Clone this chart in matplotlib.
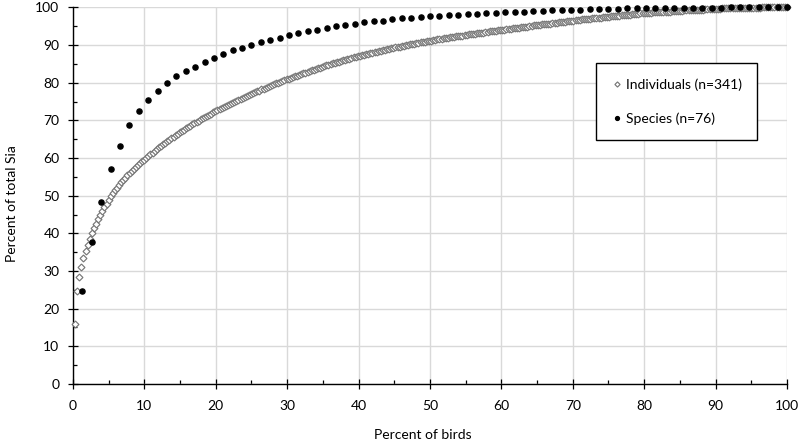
import numpy as np
import matplotlib
matplotlib.use("Agg")
import matplotlib.pyplot as plt
from matplotlib.ticker import MultipleLocator

plt.rcParams['font.family'] = ['Lato', 'DejaVu Sans']

# cumulative percent of total Sia, birds ranked from highest to lowest
individuals = [
    16.0, 24.7, 28.4, 31.0, 33.4, 35.3, 37.0, 38.6, 40.1, 41.4,
    42.6, 43.7, 44.8, 45.9, 46.9, 47.9, 48.9, 49.8, 50.6, 51.4,
    52.1, 52.8, 53.5, 54.2, 54.8, 55.5, 56.0, 56.6, 57.1, 57.6,
    58.1, 58.6, 59.1, 59.5, 60.0, 60.5, 61.0, 61.4, 61.9, 62.3,
    62.8, 63.2, 63.6, 64.1, 64.5, 64.9, 65.3, 65.7, 66.1, 66.4,
    66.8, 67.2, 67.5, 67.9, 68.2, 68.6, 68.9, 69.3, 69.6, 69.9,
    70.3, 70.6, 70.9, 71.2, 71.5, 71.8, 72.1, 72.4, 72.7, 73.0,
    73.3, 73.5, 73.8, 74.1, 74.4, 74.6, 74.9, 75.2, 75.4, 75.7,
    76.0, 76.2, 76.5, 76.7, 77.0, 77.2, 77.5, 77.7, 77.9, 78.2,
    78.4, 78.7, 78.9, 79.1, 79.4, 79.6, 79.8, 80.0, 80.2, 80.5,
    80.7, 80.9, 81.1, 81.3, 81.5, 81.7, 81.9, 82.1, 82.3, 82.5,
    82.7, 82.9, 83.1, 83.3, 83.5, 83.7, 83.9, 84.0, 84.2, 84.4,
    84.6, 84.8, 84.9, 85.1, 85.3, 85.5, 85.6, 85.8, 86.0, 86.1,
    86.3, 86.4, 86.6, 86.7, 86.9, 87.0, 87.1, 87.3, 87.4, 87.6,
    87.7, 87.8, 88.0, 88.1, 88.2, 88.4, 88.5, 88.6, 88.8, 88.9,
    89.0, 89.1, 89.2, 89.4, 89.5, 89.6, 89.7, 89.8, 89.9, 90.0,
    90.2, 90.3, 90.4, 90.5, 90.6, 90.7, 90.8, 90.9, 91.0, 91.1,
    91.2, 91.3, 91.4, 91.5, 91.6, 91.7, 91.8, 91.8, 91.9, 92.0,
    92.1, 92.2, 92.3, 92.4, 92.5, 92.5, 92.6, 92.7, 92.8, 92.9,
    92.9, 93.0, 93.1, 93.2, 93.3, 93.3, 93.4, 93.5, 93.6, 93.6,
    93.7, 93.8, 93.9, 93.9, 94.0, 94.1, 94.2, 94.3, 94.3, 94.4,
    94.5, 94.6, 94.6, 94.7, 94.8, 94.9, 94.9, 95.0, 95.1, 95.2,
    95.2, 95.3, 95.4, 95.5, 95.5, 95.6, 95.7, 95.7, 95.8, 95.9,
    95.9, 96.0, 96.1, 96.2, 96.2, 96.3, 96.4, 96.4, 96.5, 96.6,
    96.6, 96.7, 96.8, 96.8, 96.9, 96.9, 97.0, 97.1, 97.1, 97.2,
    97.2, 97.3, 97.4, 97.4, 97.5, 97.5, 97.6, 97.7, 97.7, 97.8,
    97.8, 97.9, 97.9, 98.0, 98.1, 98.1, 98.2, 98.2, 98.3, 98.3,
    98.4, 98.4, 98.5, 98.5, 98.6, 98.6, 98.7, 98.7, 98.7, 98.8,
    98.8, 98.8, 98.9, 98.9, 98.9, 99.0, 99.0, 99.0, 99.1, 99.1,
    99.1, 99.2, 99.2, 99.2, 99.3, 99.3, 99.3, 99.3, 99.4, 99.4,
    99.4, 99.5, 99.5, 99.5, 99.5, 99.6, 99.6, 99.6, 99.6, 99.7,
    99.7, 99.7, 99.7, 99.7, 99.8, 99.8, 99.8, 99.8, 99.8, 99.8,
    99.9, 99.9, 99.9, 99.9, 99.9, 99.9, 99.9, 99.9, 100.0, 100.0,
    100.0, 100.0, 100.0, 100.0, 100.0, 100.0, 100.0, 100.0, 100.0, 100.0,
    100.0,
]

species = [
    24.7, 37.8, 48.2, 57.0, 63.1, 68.8, 72.5, 75.3, 77.9, 79.9,
    81.7, 83.1, 84.2, 85.5, 86.5, 87.5, 88.6, 89.3, 90.0, 90.8,
    91.4, 91.9, 92.6, 93.2, 93.6, 94.1, 94.5, 95.0, 95.4, 95.7,
    96.0, 96.3, 96.5, 96.8, 97.1, 97.2, 97.4, 97.6, 97.8, 98.0,
    98.1, 98.2, 98.3, 98.4, 98.6, 98.7, 98.8, 98.9, 99.0, 99.1,
    99.2, 99.3, 99.3, 99.4, 99.5, 99.5, 99.6, 99.6, 99.7, 99.7,
    99.7, 99.8, 99.8, 99.8, 99.9, 99.9, 99.9, 99.9, 99.9, 100.0,
    100.0, 100.0, 100.0, 100.0, 100.0, 100.0,
]

labels = ["Individuals (n=341)", "Species (n=76)"]

# x = rank of the bird as percent of all birds
x_ind = np.arange(1, len(individuals) + 1) / len(individuals) * 100
x_sp = np.arange(1, len(species) + 1) / len(species) * 100

fig = plt.figure(figsize=(8, 4.41), dpi=100)
ax = fig.add_axes([0.09125, 0.1293, 0.8925, 0.854])

ax.plot(x_ind, individuals, linestyle='none', marker='D', markersize=3.5,
        markerfacecolor='white', markeredgecolor='#777777', markeredgewidth=0.85,
        label=labels[0], clip_on=False, zorder=3)
ax.plot(x_sp, species, linestyle='none', marker='o', markersize=3.7,
        color='black', label=labels[1], clip_on=False, zorder=4)

ax.set_xlim(0, 100)
ax.set_ylim(0, 100)
ax.xaxis.set_major_locator(MultipleLocator(10))
ax.xaxis.set_minor_locator(MultipleLocator(5))
ax.yaxis.set_major_locator(MultipleLocator(10))
ax.yaxis.set_minor_locator(MultipleLocator(5))

ax.grid(True, which='major', color='#d9d9d9', linewidth=1)
ax.set_axisbelow(True)
for s in ['top', 'right']:
    ax.spines[s].set_visible(False)
for s in ['left', 'bottom']:
    ax.spines[s].set_color('black')
    ax.spines[s].set_linewidth(1)

ax.tick_params(which='major', direction='inout', length=6.5, width=0.9,
               labelsize=10, colors='black')
ax.tick_params(which='minor', direction='in', length=3, width=0.9)
ax.tick_params(axis='x', which='major', pad=8.5)
ax.tick_params(axis='y', which='major', pad=6.5)

ax.set_xlabel("Percent of birds", fontsize=10)
ax.set_ylabel("Percent of total Sia", fontsize=10)
ax.xaxis.set_label_coords(0.49, -0.119)
ax.yaxis.set_label_coords(-0.077, 0.48)

leg = ax.legend(loc='upper left', bbox_to_anchor=(0.7325, 0.852),
                frameon=True, fancybox=False, edgecolor='black', framealpha=1,
                fontsize=10, borderpad=1.08, labelspacing=1.55,
                handlelength=0.86, handletextpad=0.22, borderaxespad=0,
                markerscale=0.75)
leg.get_frame().set_linewidth(1)

fig.savefig("out.png", dpi=100)
